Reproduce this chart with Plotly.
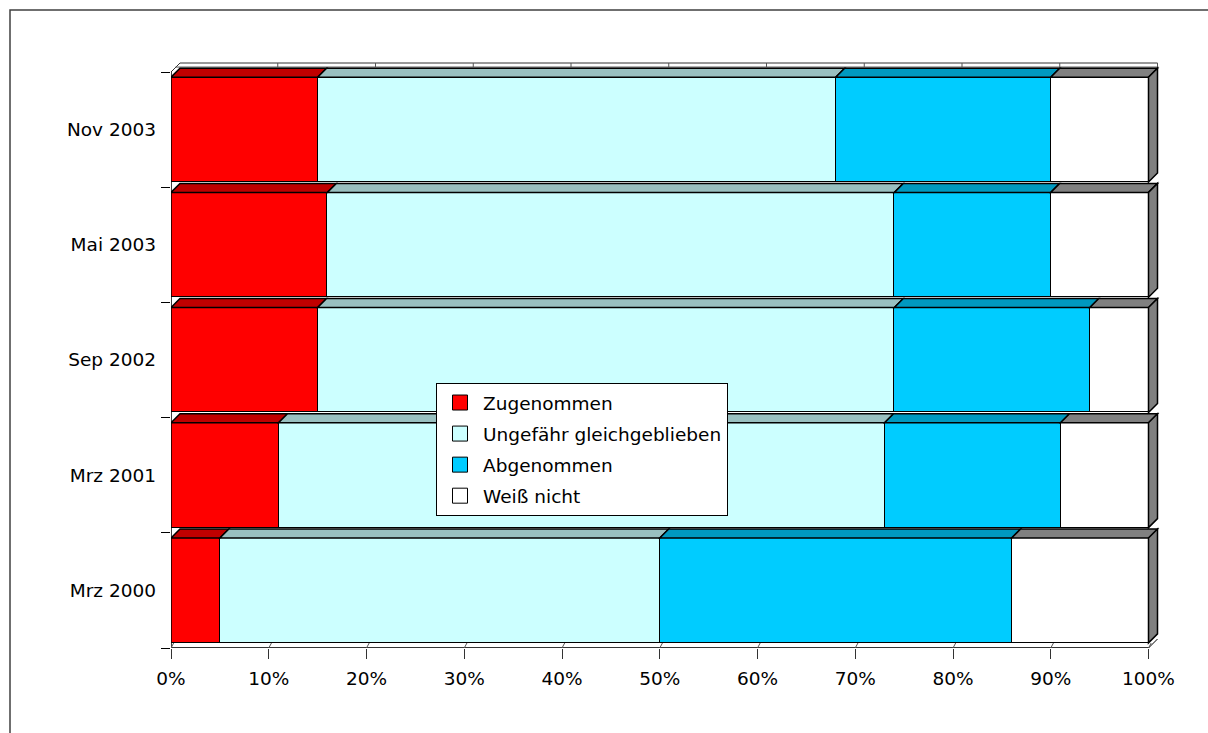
import plotly.graph_objects as go

# --- data -------------------------------------------------------------
categories = ["Mrz 2000", "Mrz 2001", "Sep 2002", "Mai 2003", "Nov 2003"]
zugenommen = [5, 11, 15, 16, 15]
gleichgeblieben = [45, 62, 59, 58, 53]
abgenommen = [36, 18, 20, 16, 22]
weiss_nicht = [14, 9, 6, 10, 10]

series_names = ["Zugenommen", "Ungefähr gleichgeblieben", "Abgenommen", "Weiß nicht"]
series_values = [zugenommen, gleichgeblieben, abgenommen, weiss_nicht]

x_tick_values = [0, 10, 20, 30, 40, 50, 60, 70, 80, 90, 100]
x_tick_labels = ["0%", "10%", "20%", "30%", "40%", "50%", "60%", "70%", "80%", "90%", "100%"]

# --- styling ----------------------------------------------------------
front_colors = ["#FF0000", "#CCFFFF", "#00CCFF", "#FFFFFF"]
top_colors = ["#C00000", "#99C0C0", "#0099C0", "#808080"]
side_color = "#808080"
FONT = "DejaVu Sans"
FONT_SIZE = 18.5

W, H = 1208, 733
M_L, M_R, M_T, M_B = 171, 38, 55, 85
PX_PER_PCT = 9.775           # horizontal scale: 100 % = 977.5 px
PX_PER_CAT = 115.2           # vertical scale: one category band
BAR_W = 0.91                 # bar thickness in category units
DEPTH_PX = 9                 # 3-D extrusion (up and to the right)

plot_w = W - M_L - M_R
plot_h = H - M_T - M_B
x_max = plot_w / PX_PER_PCT
y_min = -0.5
y_max = y_min + plot_h / PX_PER_CAT
DX = DEPTH_PX / PX_PER_PCT
DY = DEPTH_PX / PX_PER_CAT
top_edge = len(categories) - 0.5

fig = go.Figure()

# front faces of the stacked bars
for name, vals, col in zip(series_names, series_values, front_colors):
    fig.add_trace(go.Bar(
        y=categories, x=vals, orientation="h", name=name,
        width=BAR_W, legendgroup=name, showlegend=False,
        marker=dict(color=col, line=dict(color="black", width=1.5)),
        hoverinfo="skip",
    ))

# legend keys: square swatches for each series
for name, col in zip(series_names, front_colors):
    fig.add_trace(go.Scatter(
        x=[None], y=[None], mode="markers", name=name, legendgroup=name,
        marker=dict(symbol="square", size=15, color=col, line=dict(color="black", width=1)),
        hoverinfo="skip",
    ))

shapes = []


def poly(points, fill, lw=1.5, lc="black"):
    d = "M " + " L ".join(f"{x},{y}" for x, y in points) + " Z"
    return dict(type="path", xref="x", yref="y", path=d, fillcolor=fill,
                line=dict(color=lc, width=lw), layer="above")


def seg(x0, y0, x1, y1, color="black", width=1):
    return dict(type="line", xref="x", yref="y", x0=x0, y0=y0, x1=x1, y1=y1,
                line=dict(color=color, width=width), layer="above")


# back wall edges along the top
shapes.append(seg(0, top_edge, DX, top_edge + DY, "#333333", 1))
shapes.append(seg(DX, top_edge + DY, 100 + DX, top_edge + DY, "#333333", 1))
shapes.append(seg(DX * 0.5, top_edge + DY * 0.55, 100 + DX, top_edge + DY * 0.55, "#555555", 1))
for v in x_tick_values[1:]:
    shapes.append(seg(v + DX, top_edge + DY * 0.55, v + DX, top_edge + DY, "#555555", 1))

# left wall and floor
shapes.append(seg(0, y_min, 0, top_edge, "black", 1.5))
shapes.append(seg(0, y_min, 100, y_min, "#333333", 2))
shapes.append(seg(100, y_min, 100 + DX, y_min + DY, "black", 1))
for v in x_tick_values:
    shapes.append(seg(v, y_min, v + 2.7 / PX_PER_PCT, y_min + 5 / PX_PER_CAT, "#555555", 1))

# top faces and right-hand side faces of each bar
for i, cat in enumerate(categories):
    yt = i + BAR_W / 2
    yb = i - BAR_W / 2
    cum = 0
    for j, vals in enumerate(series_values):
        x0, x1 = cum, cum + vals[i]
        shapes.append(poly([(x0, yt), (x1, yt), (x1 + DX, yt + DY), (x0 + DX, yt + DY)], top_colors[j]))
        cum = x1
    shapes.append(poly([(cum, yb), (cum, yt), (cum + DX, yt + DY), (cum + DX, yb + DY)], side_color))

# outer frame of the chart
shapes.append(dict(type="rect", xref="paper", yref="paper",
                   x0=(10 - M_L) / plot_w, x1=1.1,
                   y0=-0.3, y1=(H - M_B - 10) / plot_h,
                   line=dict(color="#404040", width=1.5), fillcolor="rgba(0,0,0,0)"))

fig.update_layout(
    width=W, height=H,
    margin=dict(l=M_L, r=M_R, t=M_T, b=M_B, pad=0),
    paper_bgcolor="white", plot_bgcolor="white",
    barmode="stack", bargap=0,
    font=dict(family=FONT, size=FONT_SIZE, color="black"),
    shapes=shapes,
    showlegend=True,
    legend=dict(
        x=(436 - M_L) / plot_w, y=(H - M_B - 383) / plot_h,
        xanchor="left", yanchor="top",
        bgcolor="white", bordercolor="black", borderwidth=1,
        traceorder="grouped", tracegroupgap=4,
        itemsizing="trace", itemwidth=36,
        font=dict(family=FONT, size=FONT_SIZE, color="black"),
    ),
    xaxis=dict(
        range=[0, x_max], tickvals=x_tick_values, ticktext=x_tick_labels,
        ticks="outside", ticklen=10, tickcolor="#333333", tickwidth=1,
        ticklabelstandoff=4,
        showgrid=False, zeroline=False, showline=False,
        tickfont=dict(family=FONT, size=FONT_SIZE, color="black"),
    ),
    yaxis=dict(
        type="category", range=[y_min, y_max],
        ticks="outside", tickson="boundaries", ticklen=9, tickcolor="black", tickwidth=1,
        ticklabelstandoff=14,
        showgrid=False, zeroline=False, showline=False,
        tickfont=dict(family=FONT, size=FONT_SIZE, color="black"),
    ),
)

fig.write_html("out.html")
